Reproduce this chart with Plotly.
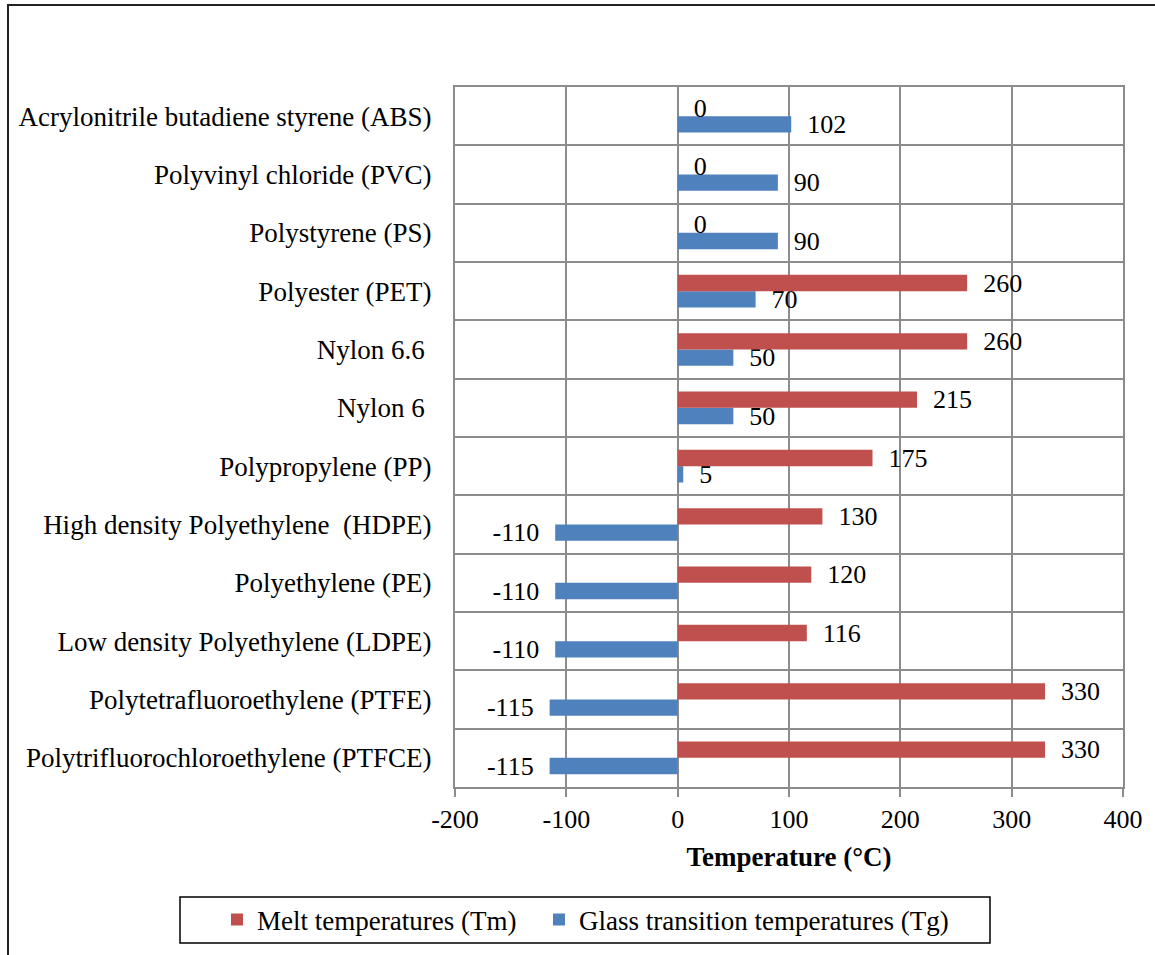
import plotly.graph_objects as go

# Polymers, listed from the bottom row of the chart to the top row
polymers = [
    "Polytrifluorochloroethylene (PTFCE)",
    "Polytetrafluoroethylene (PTFE)",
    "Low density Polyethylene (LDPE)",
    "Polyethylene (PE)",
    "High density Polyethylene \u00a0(HDPE)",
    "Polypropylene (PP)",
    "Nylon 6 ",
    "Nylon 6.6 ",
    "Polyester (PET)",
    "Polystyrene (PS)",
    "Polyvinyl chloride (PVC)",
    "Acrylonitrile butadiene styrene (ABS)",
]

# Melt temperatures Tm (°C)
melt_tm = [330, 330, 116, 120, 130, 175, 215, 260, 260, 0, 0, 0]

# Glass transition temperatures Tg (°C)
glass_tg = [-115, -115, -110, -110, -110, 5, 50, 50, 70, 90, 90, 102]

x_ticks = [-200, -100, 0, 100, 200, 300, 400]

FONT = "Liberation Serif"
RED = "#C0504D"
BLUE = "#4F81BD"
GRID = "#8c8c8c"
PAD = "\u00a0\u00a0"


def bar_labels(values):
    # value text set a little away from the bar end, on the side it points to
    return [f"{v}{PAD}" if v < 0 else f"{PAD}{v}" for v in values]


fig = go.Figure()

fig.add_trace(go.Bar(
    name="Glass transition temperatures (Tg)",
    y=polymers,
    x=glass_tg,
    orientation="h",
    marker=dict(color=BLUE, line=dict(width=0)),
    text=bar_labels(glass_tg),
    textposition="outside",
    textfont=dict(family=FONT, size=26, color="black"),
    cliponaxis=False,
    constraintext="none",
    legend="legend2",
))

fig.add_trace(go.Bar(
    name="Melt temperatures (Tm)",
    y=polymers,
    x=melt_tm,
    orientation="h",
    marker=dict(color=RED, line=dict(width=0)),
    text=bar_labels(melt_tm),
    textposition="outside",
    textfont=dict(family=FONT, size=26, color="black"),
    cliponaxis=False,
    constraintext="none",
    legend="legend",
))

W, H = 1155, 955
L, R, T, B = 455, 1123, 87, 787


def px_x(p):
    return (p - L) / (R - L)


def px_y(p):
    return (B - p) / (B - T)


def legend_at(x_px):
    return dict(
        orientation="h",
        xref="container",
        yref="container",
        x=x_px / W,
        y=1 - 920 / H,
        xanchor="left",
        yanchor="middle",
        font=dict(family=FONT, size=27, color="black"),
        bgcolor="rgba(0,0,0,0)",
        borderwidth=0,
    )


fig.update_layout(
    width=W,
    height=H,
    margin=dict(l=L, r=W - R, t=T, b=H - B),
    paper_bgcolor="white",
    plot_bgcolor="white",
    font=dict(family=FONT, size=26, color="black"),
    barmode="group",
    bargap=0.44,
    bargroupgap=0,
    showlegend=True,
    legend=legend_at(217),
    legend2=legend_at(539),
    xaxis=dict(
        range=[-200, 400],
        tickvals=x_ticks,
        ticktext=[str(v) for v in x_ticks],
        showgrid=True,
        gridcolor=GRID,
        gridwidth=2,
        zeroline=True,
        zerolinecolor=GRID,
        zerolinewidth=2,
        showline=True,
        mirror=True,
        linecolor=GRID,
        linewidth=2,
        ticks="outside",
        ticklen=8,
        tickwidth=2,
        tickcolor=GRID,
        tickfont=dict(family=FONT, size=26, color="black"),
        title=dict(
            text="<b>Temperature (°C)</b>",
            font=dict(family=FONT, size=27, color="black"),
            standoff=14,
        ),
        fixedrange=True,
    ),
    yaxis=dict(
        type="category",
        categoryorder="array",
        categoryarray=polymers,
        tickson="boundaries",
        showgrid=True,
        gridcolor=GRID,
        gridwidth=2,
        showline=True,
        mirror=True,
        linecolor=GRID,
        linewidth=2,
        ticks="",
        ticklabelstandoff=16,
        tickfont=dict(family=FONT, size=27, color="black"),
        fixedrange=True,
    ),
    shapes=[
        # frame around the legend
        dict(type="rect", xref="paper", yref="paper",
             x0=px_x(180), x1=px_x(990), y0=px_y(943), y1=px_y(897),
             line=dict(color="black", width=1.5), fillcolor="rgba(0,0,0,0)",
             layer="above"),
        # outer chart frame
        dict(type="rect", xref="paper", yref="paper",
             x0=px_x(8), x1=px_x(1200), y0=px_y(1000), y1=px_y(5),
             line=dict(color="#222222", width=2), fillcolor="rgba(0,0,0,0)",
             layer="above"),
    ],
)

fig.write_html("out.html")
